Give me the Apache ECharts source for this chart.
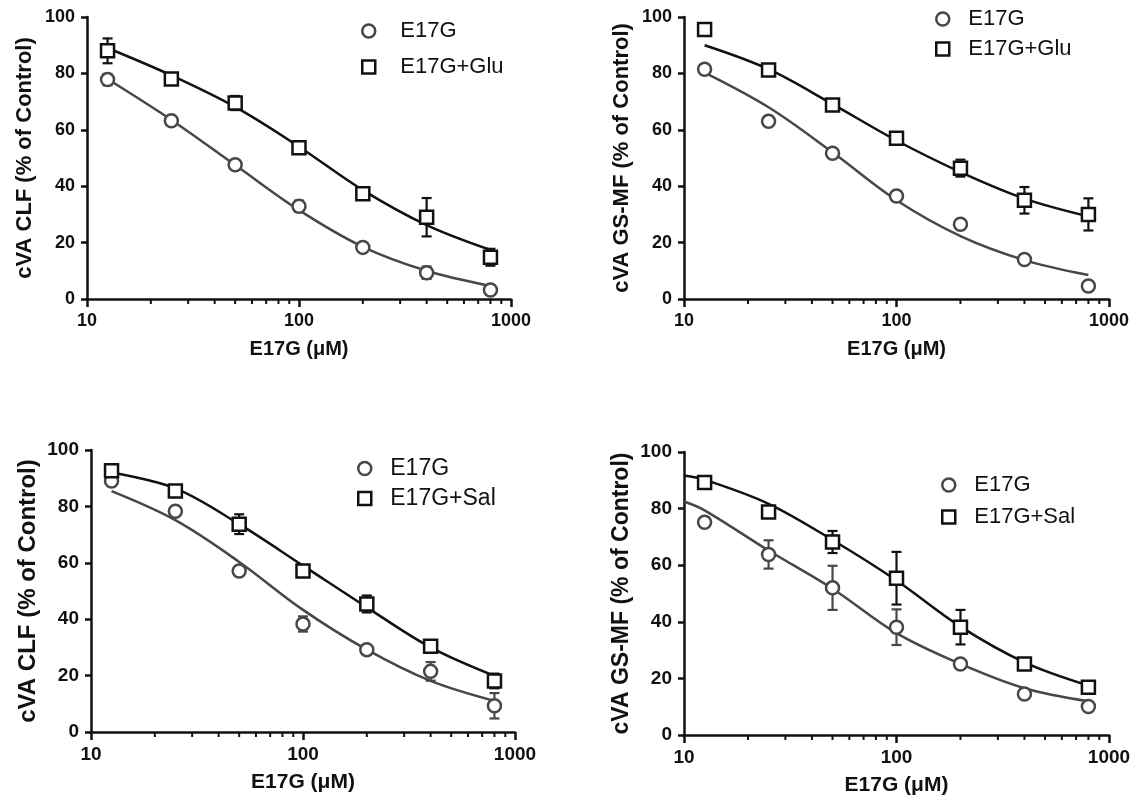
<!DOCTYPE html>
<html>
<head>
<meta charset="utf-8">
<script src="https://cdn.jsdelivr.net/npm/echarts@6/dist/echarts.min.js"></script>
<style>
  html, body { margin: 0; padding: 0; background: #fff; }
  #chart { width: 1137px; height: 803px; }
</style>
</head>
<body>
<div id="chart"></div>
<script>
// doses (µM)
let doses = [12.5, 25, 50, 100, 200, 400, 800];
let curveX = [12.5, 25, 50, 100, 200, 400, 800];
let curveX4 = [10, 12.5, 25, 50, 100, 200, 400, 800];
let minorTicks = [20, 30, 40, 50, 60, 70, 80, 90, 200, 300, 400, 500, 600, 700, 800, 900];

// panel 1 : CLF, Glu
let p1_e17g = [77.8, 63.2, 47.6, 32.9, 18.3, 9.3, 3.2];
let p1_e17g_err = [2, 0.8, 0.8, 2, 0.8, 2.2, 0.5];
let p1_glu = [88.0, 78.0, 69.5, 53.6, 37.3, 29.0, 14.8];
let p1_glu_err = [4.4, 1, 2.5, 2, 1, 6.8, 3];
let p1_e17g_fit = [78, 63.5, 47.5, 31.5, 18.5, 10, 4.6];
let p1_glu_fit = [89, 79.3, 68.1, 54, 38.6, 26.2, 17.4];

// panel 2 : GS-MF, Glu
let p2_e17g = [81.5, 63.0, 51.7, 36.5, 26.5, 14.0, 4.6];
let p2_e17g_err = [0.5, 1.5, 1.5, 1.5, 0.5, 0.5, 0.5];
let p2_glu = [95.6, 81.2, 68.8, 57.0, 46.4, 35.0, 30.0];
let p2_glu_err = [0.5, 0.8, 1.5, 1.5, 3, 4.7, 5.7];
let p2_e17g_fit = [80.3, 68, 52, 35, 22.3, 13.8, 8.5];
let p2_glu_fit = [90, 81.5, 69.1, 56.2, 45, 35.6, 29.3];

// panel 3 : CLF, Sal
let p3_e17g = [89.0, 78.3, 57.1, 38.3, 29.2, 21.5, 9.3];
let p3_e17g_err = [0.8, 0.5, 0.5, 2.7, 1.5, 3.3, 4.5];
let p3_sal = [92.6, 85.5, 73.7, 57.1, 45.4, 30.4, 18.1];
let p3_sal_err = [0.8, 1, 3.5, 1, 3, 0.8, 2.6];
let p3_e17g_fit = [85.4, 75.1, 60.3, 43.3, 29.2, 18.1, 11];
let p3_sal_fit = [92, 86.4, 73.7, 59, 44.2, 30, 19.9];

// panel 4 : GS-MF, Sal
let p4_e17g = [75.2, 63.8, 52.0, 38.1, 25.1, 14.5, 10.1];
let p4_e17g_err = [0.5, 5, 7.8, 6.3, 0.5, 0.5, 0.5];
let p4_sal = [89.2, 78.8, 68.2, 55.4, 38.1, 25.1, 16.9];
let p4_sal_err = [0.5, 0.5, 3.9, 9.3, 6.1, 0.5, 0.5];
let p4_e17g_fit = [82.5, 79.4, 65.2, 51.7, 36, 25.1, 16.5, 11.9];
let p4_sal_fit = [91.7, 90.2, 81.7, 68.9, 54.6, 38.3, 25.7, 17.5];

const GRAY = '#474747';
const BLACK = '#111111';
const FONT = 'Liberation Sans, Arial, sans-serif';

let grids = [
    {left: 87, top: 17, width: 424, height: 282},
    {left: 684, top: 17, width: 425, height: 282},
    {left: 91, top: 450, width: 424, height: 282},
    {left: 684, top: 452, width: 425, height: 283}
];
let yNames = ['cVA CLF (% of Control)', 'cVA GS-MF (% of Control)', 'cVA CLF (% of Control)', 'cVA GS-MF (% of Control)'];
// the four panels were pasted at slightly different scales
let yNameSize = [22, 22, 24, 23];
let xNameSize = [20, 20, 21, 21];
let tickSize = [18, 18, 19, 19];
let legendPos = [
    {left: 361, top: 20, gap: 14, pad: 20, size: 22, second: 'E17G+Glu'},
    {left: 935, top: 8, gap: 8, pad: 14, size: 22, second: 'E17G+Glu'},
    {left: 357, top: 457, gap: 7, pad: 14, size: 23, second: 'E17G+Sal'},
    {left: 941, top: 474, gap: 10, pad: 14, size: 22, second: 'E17G+Sal'}
];
let panels = [
    {e: p1_e17g, ee: p1_e17g_err, t: p1_glu, te: p1_glu_err, ef: p1_e17g_fit, tf: p1_glu_fit, cx: curveX},
    {e: p2_e17g, ee: p2_e17g_err, t: p2_glu, te: p2_glu_err, ef: p2_e17g_fit, tf: p2_glu_fit, cx: curveX},
    {e: p3_e17g, ee: p3_e17g_err, t: p3_sal, te: p3_sal_err, ef: p3_e17g_fit, tf: p3_sal_fit, cx: curveX},
    {e: p4_e17g, ee: p4_e17g_err, t: p4_sal, te: p4_sal_err, ef: p4_e17g_fit, tf: p4_sal_fit, cx: curveX4}
];

function zip(xs, ys) {
    return xs.map((x, i) => [x, ys[i]]);
}

function errData(ys, errs) {
    return doses.map((x, i) => [x, ys[i] - errs[i], ys[i] + errs[i]]);
}

function errorBarRender(color) {
    return function (params, api) {
        let x = api.value(0);
        let lo = api.coord([x, api.value(1)]);
        let hi = api.coord([x, api.value(2)]);
        let half = 5;
        let style = {stroke: color, lineWidth: 2.2};
        return {
            type: 'group',
            children: [
                {type: 'line', shape: {x1: lo[0], y1: lo[1], x2: hi[0], y2: hi[1]}, style: style},
                {type: 'line', shape: {x1: lo[0] - half, y1: lo[1], x2: lo[0] + half, y2: lo[1]}, style: style},
                {type: 'line', shape: {x1: hi[0] - half, y1: hi[1], x2: hi[0] + half, y2: hi[1]}, style: style}
            ]
        };
    };
}

function minorTickRender(params, api) {
    let p = api.coord([api.value(0), 0]);
    return {
        type: 'line',
        shape: {x1: p[0], y1: p[1], x2: p[0], y2: p[1] + 5},
        style: {stroke: BLACK, lineWidth: 2}
    };
}

let xAxes = [], yAxes = [], series = [], legends = [];

grids.forEach(function (g, k) {
    xAxes.push({
        type: 'log', logBase: 10, min: 10, max: 1000, gridIndex: k,
        name: 'E17G (μM)', nameLocation: 'middle', nameGap: 40,
        nameTextStyle: {fontFamily: FONT, fontSize: xNameSize[k], fontWeight: 'bold', color: BLACK},
        axisLine: {lineStyle: {color: BLACK, width: 2.5}},
        axisTick: {length: 8, lineStyle: {color: BLACK, width: 2.5}},
        axisLabel: {
            fontFamily: FONT, fontSize: tickSize[k], fontWeight: 'bold', color: BLACK, margin: 13,
            formatter: v => String(Math.round(v))
        },
        splitLine: {show: false}
    });
    yAxes.push({
        type: 'value', min: 0, max: 100, interval: 20, gridIndex: k,
        name: yNames[k], nameLocation: 'middle', nameGap: 51, nameRotate: 90,
        nameTextStyle: {fontFamily: FONT, fontSize: yNameSize[k], fontWeight: 'bold', color: BLACK},
        axisLine: {show: true, lineStyle: {color: BLACK, width: 2.5}},
        axisTick: {show: true, length: 6, lineStyle: {color: BLACK, width: 2.5}},
        axisLabel: {fontFamily: FONT, fontSize: tickSize[k], fontWeight: 'bold', color: BLACK, margin: 12},
        splitLine: {show: false}
    });

    let p = panels[k];
    let lp = legendPos[k];

    series.push({
        type: 'custom', xAxisIndex: k, yAxisIndex: k, clip: false, silent: true, z: 1,
        renderItem: minorTickRender,
        data: minorTicks.map(v => [v, 0])
    });
    series.push({
        type: 'line', xAxisIndex: k, yAxisIndex: k, showSymbol: false, smooth: 0.35,
        silent: true, z: 2,
        lineStyle: {color: GRAY, width: 2.5},
        data: zip(p.cx, p.ef)
    });
    series.push({
        type: 'line', xAxisIndex: k, yAxisIndex: k, showSymbol: false, smooth: 0.35,
        silent: true, z: 2,
        lineStyle: {color: BLACK, width: 2.5},
        data: zip(p.cx, p.tf)
    });
    series.push({
        type: 'custom', xAxisIndex: k, yAxisIndex: k, clip: false, z: 3,
        renderItem: errorBarRender(GRAY),
        encode: {x: 0, y: [1, 2]},
        data: errData(p.e, p.ee)
    });
    series.push({
        type: 'custom', xAxisIndex: k, yAxisIndex: k, clip: false, z: 3,
        renderItem: errorBarRender(BLACK),
        encode: {x: 0, y: [1, 2]},
        data: errData(p.t, p.te)
    });
    series.push({
        name: 'E17G', type: 'scatter', xAxisIndex: k, yAxisIndex: k, z: 4,
        symbol: 'circle', symbolSize: 13,
        itemStyle: {color: '#fff', borderColor: GRAY, borderWidth: 2.5, opacity: 1},
        data: zip(doses, p.e)
    });
    series.push({
        name: lp.second, type: 'scatter', xAxisIndex: k, yAxisIndex: k, z: 4,
        symbol: 'rect', symbolSize: 13,
        itemStyle: {color: '#fff', borderColor: BLACK, borderWidth: 2.5, opacity: 1},
        data: zip(doses, p.t)
    });

    legends.push({
        orient: 'vertical', left: lp.left, top: lp.top, itemGap: lp.gap, padding: 0,
        itemWidth: 13, itemHeight: 13, selectedMode: false,
        textStyle: {fontFamily: FONT, fontSize: lp.size, color: BLACK, padding: [0, 0, 0, lp.pad]},
        data: [
            {name: 'E17G', icon: 'circle', itemStyle: {color: '#fff', borderColor: GRAY, borderWidth: 2.5}},
            {name: lp.second, icon: 'rect', itemStyle: {color: '#fff', borderColor: BLACK, borderWidth: 2.5}}
        ]
    });
});

let myChart = echarts.init(document.getElementById('chart'), null, {renderer: 'canvas'});
let option = {
    animation: false,
    backgroundColor: '#fff',
    grid: grids,
    xAxis: xAxes,
    yAxis: yAxes,
    legend: legends,
    series: series
};
myChart.setOption(option);
</script>
</body>
</html>
